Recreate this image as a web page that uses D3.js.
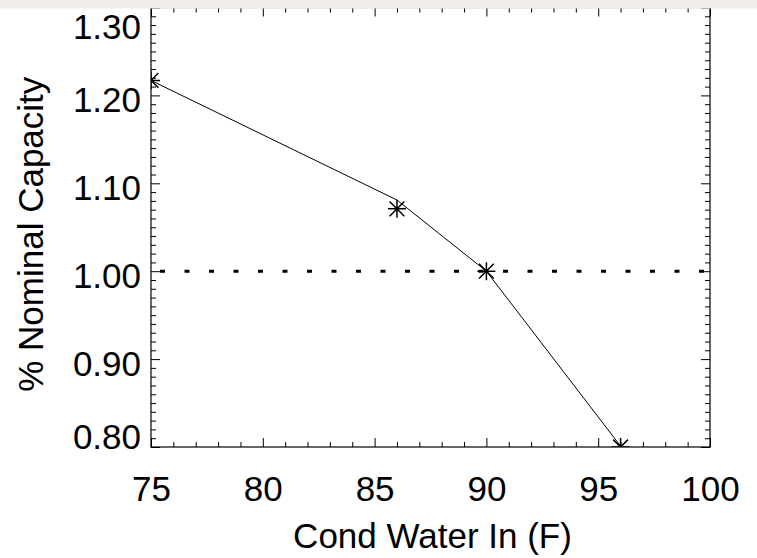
<!DOCTYPE html>
<html lang="en">
<head>
  <meta charset="UTF-8">
  <title>% Nominal Capacity vs Cond Water In</title>
  <style>
    body {
      margin: 0;
      background-color: #ffffff;
      font-family: "Liberation Sans", Arial, sans-serif;
    }
    svg { display: block; }
    .tick text { font-family: "Liberation Sans", Arial, sans-serif; }
  </style>
  <script src="https://d3js.org/d3.v7.min.js"></script>
</head>
<body>
  <div id="chart"></div>

  <script>
    // Data
    const condWaterIn = [75, 86, 90, 96];
    const curveCapacity = [1.217, 1.081, 1.000, 0.801];
    const markerCapacity = [1.217, 1.071, 1.000, 0.800];
    const nominalLevel = 1.00;

    const xTicks = [75, 80, 85, 90, 95, 100];
    const yTicks = [0.80, 0.90, 1.00, 1.10, 1.20, 1.30];

    const width = 757;
    const height = 558;
    const margin = { top: 7.5, right: 47, bottom: 111, left: 151 };

    const svg = d3.select('#chart')
      .append('svg')
      .attr('width', width)
      .attr('height', height);

    const x = d3.scaleLinear()
      .domain([75, 100])
      .range([margin.left, width - margin.right]);

    const y = d3.scaleLinear()
      .domain([0.80, 1.30])
      .range([height - margin.bottom, margin.top]);

    const x0 = x.range()[0], x1 = x.range()[1];
    const yBot = y.range()[0], yTop = y.range()[1];

    // clip for the plotted data
    svg.append('clipPath')
      .attr('id', 'plot-clip')
      .append('rect')
      .attr('x', x0).attr('y', yTop)
      .attr('width', x1 - x0).attr('height', yBot - yTop);

    const xMinor = d3.range(75, 100.01, 1).filter(v => v % 5 !== 0);
    const yMinor = d3.range(80, 130.01, 1).map(v => v / 100).filter(v => Math.round(v * 100) % 10 !== 0);

    // minor ticks
    const minor = svg.append('g').attr('stroke-width', 1);
    minor.append('g').attr('transform', `translate(0,${yBot})`)
      .call(d3.axisBottom(x).tickValues(xMinor).tickSizeInner(-5).tickSizeOuter(0).tickFormat(''));
    minor.append('g').attr('transform', `translate(0,${yTop})`)
      .call(d3.axisTop(x).tickValues(xMinor).tickSizeInner(-5).tickSizeOuter(0).tickFormat(''));
    minor.append('g').attr('transform', `translate(${x0},0)`)
      .call(d3.axisLeft(y).tickValues(yMinor).tickSizeInner(-5).tickSizeOuter(0).tickFormat(''));
    minor.append('g').attr('transform', `translate(${x1},0)`)
      .call(d3.axisRight(y).tickValues(yMinor).tickSizeInner(-5).tickSizeOuter(0).tickFormat(''));

    // major ticks with labels
    const xAxis = svg.append('g')
      .attr('transform', `translate(0,${yBot})`)
      .call(d3.axisBottom(x).tickValues(xTicks).tickSizeInner(-9).tickSizeOuter(0).tickPadding(29)
        .tickFormat(d3.format('d')));
    xAxis.selectAll('text')
      .attr('font-size', '35px')
      .attr('fill', '#000');

    svg.append('g')
      .attr('transform', `translate(0,${yTop})`)
      .call(d3.axisTop(x).tickValues(xTicks).tickSizeInner(-9).tickSizeOuter(0).tickFormat(''));

    const yAxis = svg.append('g')
      .attr('transform', `translate(${x0},0)`)
      .call(d3.axisLeft(y).tickValues(yTicks).tickSizeInner(-9).tickSizeOuter(0).tickPadding(10)
        .tickFormat(d3.format('.2f')));
    // labels sit a little below their tick, kept inside the frame at the ends
    yAxis.selectAll('text')
      .attr('font-size', '35px')
      .attr('fill', '#000')
      .attr('dy', null)
      .attr('y', d => {
        const base = y(d) + 16.5;
        return Math.min(Math.max(base, yTop + 30.5), yBot + 1) - y(d);
      });

    svg.append('g')
      .attr('transform', `translate(${x1},0)`)
      .call(d3.axisRight(y).tickValues(yTicks).tickSizeInner(-9).tickSizeOuter(0).tickFormat(''));

    svg.selectAll('.domain').remove();
    svg.selectAll('.tick line').attr('stroke', '#000');

    // frame
    svg.append('rect')
      .attr('x', x0).attr('y', yTop)
      .attr('width', x1 - x0).attr('height', yBot - yTop)
      .attr('fill', 'none')
      .attr('stroke', '#000')
      .attr('stroke-width', 1.2);

    const plot = svg.append('g').attr('clip-path', 'url(#plot-clip)');

    // nominal reference
    plot.append('line')
      .attr('x1', x0).attr('x2', x1)
      .attr('y1', y(nominalLevel)).attr('y2', y(nominalLevel))
      .attr('stroke', '#000')
      .attr('stroke-width', 3)
      .attr('stroke-dasharray', '5 19.5')
      .attr('stroke-dashoffset', 15.5);

    const pts = condWaterIn.map((v, i) => [v, curveCapacity[i]]);
    plot.append('path')
      .datum(pts)
      .attr('fill', 'none')
      .attr('stroke', '#000')
      .attr('stroke-width', 1)
      .attr('d', d3.line().x(d => x(d[0])).y(d => y(d[1])));

    // asterisk markers
    const r = 9, rd = r * 0.82;
    const star = `M0,${-r}V${r}M${-r},0H${r}M${-rd},${-rd}L${rd},${rd}M${-rd},${rd}L${rd},${-rd}`;
    plot.selectAll('path.marker')
      .data(condWaterIn.map((v, i) => [v, markerCapacity[i]]))
      .enter()
      .append('path')
      .attr('class', 'marker')
      .attr('transform', d => `translate(${x(d[0])},${y(d[1])})`)
      .attr('d', star)
      .attr('fill', 'none')
      .attr('stroke', '#000')
      .attr('stroke-width', 1.5);

    // axis titles
    svg.append('text')
      .attr('x', (x0 + x1) / 2 + 2)
      .attr('y', 548)
      .attr('text-anchor', 'middle')
      .attr('font-size', '35px')
      .text('Cond Water In (F)');

    svg.append('text')
      .attr('transform', `translate(43,${(yTop + yBot) / 2 + 7}) rotate(-90)`)
      .attr('text-anchor', 'middle')
      .attr('font-size', '35px')
      .text('% Nominal Capacity');

    // light band across the top edge
    svg.append('rect')
      .attr('x', 0).attr('y', 0)
      .attr('width', width).attr('height', 8.5)
      .attr('fill', '#f0edea');
  </script>
</body>
</html>
